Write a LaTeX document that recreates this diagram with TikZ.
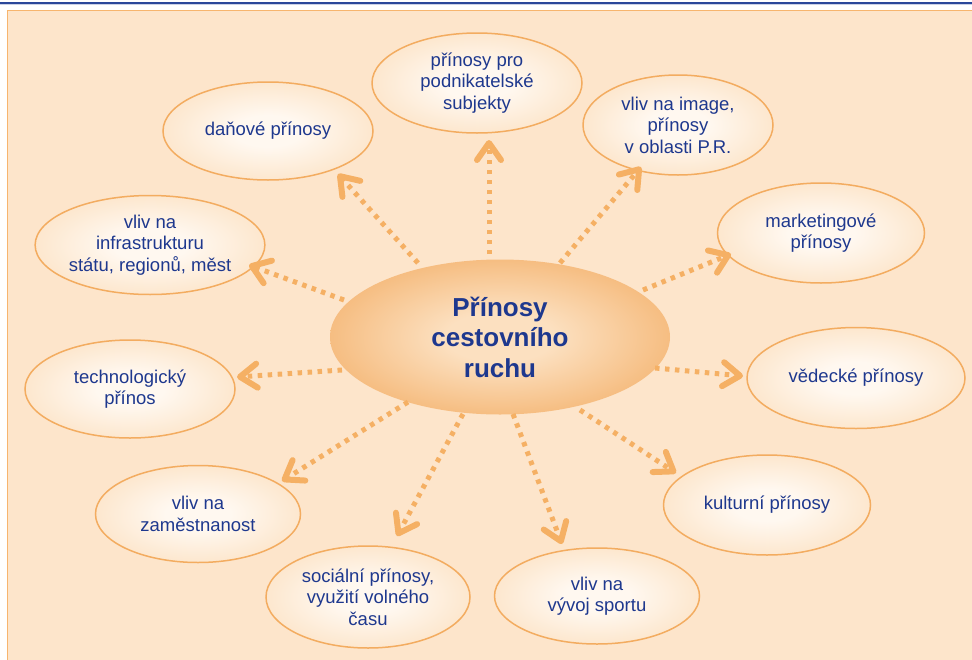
\documentclass[tikz,border=0pt]{standalone}
\usepackage{fontspec}
\setmainfont{Liberation Sans}
\usetikzlibrary{shapes.geometric,arrows.meta}
\definecolor{panelbg}{RGB}{253,229,203}
\definecolor{panelline}{RGB}{247,181,110}
\definecolor{topblue}{RGB}{42,71,154}
\definecolor{ellin}{RGB}{255,248,240}
\definecolor{ellmid}{RGB}{252,226,196}
\definecolor{ellout}{RGB}{247,198,146}
\definecolor{ellline}{RGB}{243,172,96}
\definecolor{hubin}{RGB}{252,224,192}
\definecolor{hubout}{RGB}{242,169,93}
\definecolor{txtblue}{RGB}{30,56,142}
\definecolor{arrowc}{RGB}{245,176,100}
\pgfdeclareradialshading{softell}{\pgfpoint{0bp}{0bp}}{color(0bp)=(ellin); color(8bp)=(ellin); color(30bp)=(ellmid); color(50bp)=(ellout)}
\pgfdeclareradialshading{hubshade}{\pgfpoint{0bp}{0bp}}{color(0bp)=(hubin); color(8bp)=(hubin); color(35bp)=(hubout); color(50bp)=(hubout)}
\begin{document}
\begin{tikzpicture}[x=1pt,y=-1pt,
  sat/.style={ellipse, shading=softell, draw=ellline, line width=1.5pt, inner sep=0pt,
    align=center, text=txtblue, font=\fontsize{18.5}{21.5}\selectfont},
  hubnode/.style={ellipse, shading=hubshade, draw=none, inner sep=0pt,
    align=center, text=txtblue, font=\fontsize{26}{30.5}\selectfont\bfseries},
  flow/.style={draw=arrowc, line width=5pt, dash pattern=on 4.5pt off 5.5pt,
    -{Straight Barb[length=17pt,width=24pt,line width=6pt,round]}}
]
\useasboundingbox (0,0) rectangle (972,659);
% top rule and panel
\fill[white] (0,0) rectangle (972,659);
\fill[topblue] (0,1.5) rectangle (972,3.5);
\fill[topblue!25] (0,3.5) rectangle (972,4.5);
\fill[panelbg] (7,10) rectangle (974,661);
\draw[panelline, line width=1.5pt] (7.7,661) -- (7.7,10.7) -- (974,10.7);

% hub
\node[hubnode, minimum width=340pt, minimum height=155pt] (hub) at (500,337)
  {Přínosy\\cestovního\\ruchu};

% satellites
\node[sat, minimum width=210pt, minimum height=98pt]  (dan)   at (268,131) {daňové přínosy};
\node[sat, minimum width=210pt, minimum height=100pt] (podn)  at (477,83)  {přínosy pro\\podnikatelské\\subjekty};
\node[sat, minimum width=190pt, minimum height=100pt] (img)   at (678,125) {vliv na image,\\přínosy\\v oblasti P.R.};
\node[sat, minimum width=207pt, minimum height=100pt] (mark)  at (821,233) {marketingové\\přínosy};
\node[sat, minimum width=218pt, minimum height=101pt] (ved)   at (856,378) {vědecké přínosy};
\node[sat, minimum width=207pt, minimum height=100pt] (kult)  at (767,505) {kulturní přínosy};
\node[sat, minimum width=205pt, minimum height=96pt]  (sport) at (597,596) {vliv na\\vývoj sportu};
\node[sat, minimum width=204pt, minimum height=102pt] (soc)   at (368,597) {sociální přínosy,\\využití volného\\času};
\node[sat, minimum width=205pt, minimum height=97pt]  (zam)   at (198,514) {vliv na\\zaměstnanost};
\node[sat, minimum width=210pt, minimum height=98pt]  (tech)  at (130,389) {technologický\\přínos};
\node[sat, minimum width=210pt, minimum height=99pt]  (infra) at (150,245) {vliv na\\infrastrukturu\\státu, regionů, měst};

% connector end points
\coordinate (s1) at (418,263);  \coordinate (e1) at (338,174);
\coordinate (s2) at (489,254);  \coordinate (e2) at (489,140);
\coordinate (s3) at (560,263);  \coordinate (e3) at (641,167);
\coordinate (s4) at (643,290);  \coordinate (e4) at (731,254);
\coordinate (s5) at (655,368);  \coordinate (e5) at (743,376);
\coordinate (s6) at (580,410);  \coordinate (e6) at (676,473);
\coordinate (s7) at (513,414);  \coordinate (e7) at (562,544);
\coordinate (s8) at (463,414);  \coordinate (e8) at (397,536);
\coordinate (s9) at (408,402);  \coordinate (e9) at (282,481);
\coordinate (s10) at (342,370); \coordinate (e10) at (237,377);
\coordinate (s11) at (344,300); \coordinate (e11) at (249,265);

\foreach \i in {1,...,11} \draw[flow] (s\i) -- (e\i);
\end{tikzpicture}
\end{document}
